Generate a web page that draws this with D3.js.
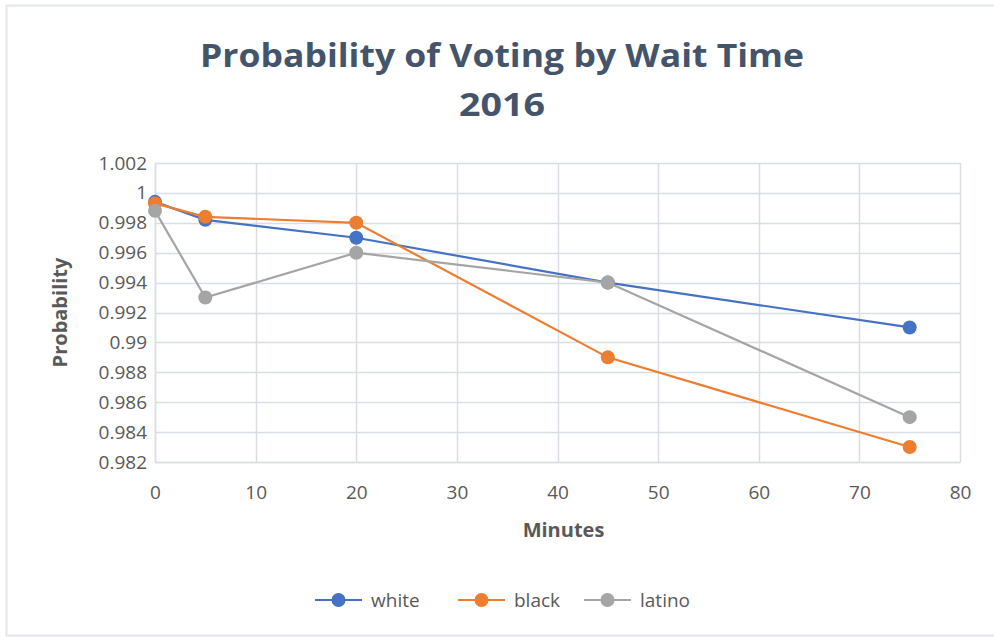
<!DOCTYPE html>
<html>
<head>
<meta charset="utf-8">
<script src="https://cdn.jsdelivr.net/npm/d3@7"></script>
<style>
  body { margin: 0; background: #fff; }
  svg { display: block; }
</style>
</head>
<body>
<svg id="chart" width="994" height="637"></svg>
<script>
// Wait time in minutes and the modelled probability of voting per group
const minutes = [0, 5, 20, 45, 75];
const white  = [0.9994, 0.9982, 0.9970, 0.9940, 0.9910];
const black  = [0.9993, 0.9984, 0.9980, 0.9890, 0.9830];
const latino = [0.9988, 0.9930, 0.9960, 0.9940, 0.9850];
const seriesNames = ["white", "black", "latino"];
const seriesColors = ["#4472C4", "#ED7D31", "#A5A5A5"];
const yTicks = [0.982, 0.984, 0.986, 0.988, 0.99, 0.992, 0.994, 0.996, 0.998, 1, 1.002];
const xTicks = [0, 10, 20, 30, 40, 50, 60, 70, 80];

const series = [white, black, latino].map((vals, i) => ({
  name: seriesNames[i],
  color: seriesColors[i],
  points: vals.map((v, j) => ({ x: minutes[j], y: v }))
}));

const svg = d3.select("#chart");
const font = "'Open Sans', 'Liberation Sans', sans-serif";
const textColor = "#595959";
const gridColor = "#D9DDE4";

// Outer chart frame
svg.append("rect")
  .attr("x", 6.5).attr("y", 5.5)
  .attr("width", 994).attr("height", 630)
  .attr("fill", "#fff")
  .attr("stroke", "#E3E6EC").attr("stroke-width", 2);

// Title
const title = svg.append("text")
  .attr("text-anchor", "middle")
  .attr("fill", "#44546A")
  .attr("font-family", font)
  .attr("font-weight", "bold")
  .attr("font-size", 32);
title.append("tspan").attr("x", 502).attr("y", 67)
  .attr("textLength", 604).attr("lengthAdjust", "spacingAndGlyphs")
  .text("Probability of Voting by Wait Time");
title.append("tspan").attr("x", 502).attr("y", 116)
  .attr("textLength", 86).attr("lengthAdjust", "spacingAndGlyphs")
  .text("2016");

const x = d3.scaleLinear().domain([0, 80]).range([155, 960]);
const y = d3.scaleLinear().domain([0.982, 1.002]).range([462, 163]);

// Gridlines
const g = svg.append("g");
g.selectAll("line.h").data(yTicks).join("line")
  .attr("x1", x(0)).attr("x2", x(80))
  .attr("y1", d => Math.round(y(d)) + 0.5).attr("y2", d => Math.round(y(d)) + 0.5)
  .attr("stroke", gridColor).attr("stroke-width", 1.5);
g.selectAll("line.v").data(xTicks).join("line")
  .attr("y1", y(1.002)).attr("y2", y(0.982))
  .attr("x1", d => Math.round(x(d)) + 0.5).attr("x2", d => Math.round(x(d)) + 0.5)
  .attr("stroke", gridColor).attr("stroke-width", 1.5);

// Axes (labels only; lines come from the grid)
const yAxis = svg.append("g")
  .attr("transform", `translate(${x(0)},0)`)
  .call(d3.axisLeft(y).tickValues(yTicks).tickSize(0).tickPadding(8)
    .tickFormat(d => String(+d.toFixed(3))));
const xAxis = svg.append("g")
  .attr("transform", `translate(0,${y(0.982)})`)
  .call(d3.axisBottom(x).tickValues(xTicks).tickSize(0).tickPadding(24));
[yAxis, xAxis].forEach(a => {
  a.select(".domain").attr("stroke", gridColor).attr("stroke-width", 1.5);
  a.selectAll("text").attr("fill", textColor).attr("font-family", font).attr("font-size", 19);
});

// Axis titles
svg.append("text")
  .attr("transform", `translate(67,${(y(1.002) + y(0.982)) / 2}) rotate(-90)`)
  .attr("text-anchor", "middle")
  .attr("fill", textColor).attr("font-family", font)
  .attr("font-weight", "bold").attr("font-size", 20)
  .text("Probability");
svg.append("text")
  .attr("x", (x(0) + x(80)) / 2 + 6).attr("y", 537)
  .attr("text-anchor", "middle")
  .attr("fill", textColor).attr("font-family", font)
  .attr("font-weight", "bold").attr("font-size", 20)
  .text("Minutes");

// Series lines and markers
const line = d3.line().x(d => x(d.x)).y(d => y(d.y));
const sg = svg.selectAll("g.series").data(series).join("g").attr("class", "series");
sg.append("path")
  .attr("d", d => line(d.points))
  .attr("fill", "none")
  .attr("stroke", d => d.color)
  .attr("stroke-width", 2.2);
sg.selectAll("circle").data(d => d.points.map(p => ({ ...p, color: d.color }))).join("circle")
  .attr("cx", d => x(d.x)).attr("cy", d => y(d.y))
  .attr("r", 7)
  .attr("fill", d => d.color);

// Legend
const legendX = [315, 458, 584];
const lg = svg.selectAll("g.legend").data(series).join("g")
  .attr("class", "legend")
  .attr("transform", (d, i) => `translate(${legendX[i]},600)`);
lg.append("line").attr("x1", 0).attr("x2", 47).attr("y1", 0).attr("y2", 0)
  .attr("stroke", d => d.color).attr("stroke-width", 2.2);
lg.append("circle").attr("cx", 23.5).attr("cy", 0).attr("r", 7).attr("fill", d => d.color);
lg.append("text").attr("x", 56).attr("y", 7)
  .attr("fill", textColor).attr("font-family", font).attr("font-size", 19)
  .text(d => d.name);
</script>
</body>
</html>
